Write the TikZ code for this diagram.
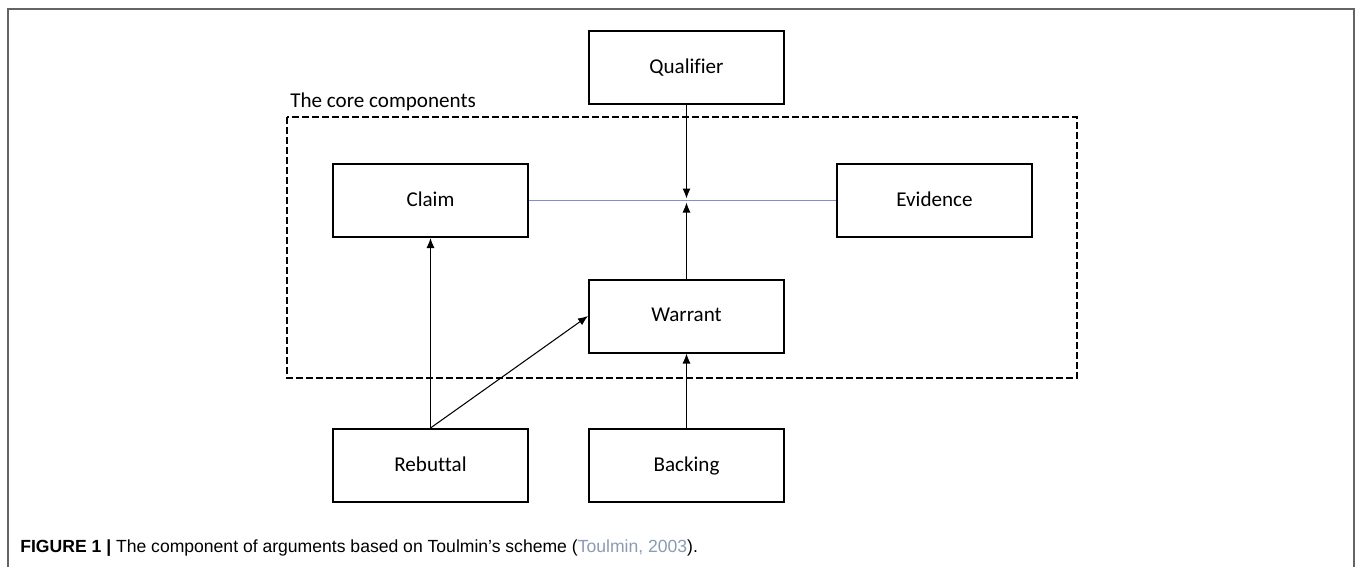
\documentclass[tikz,border=0pt]{standalone}
\usepackage{fontspec}
\setmainfont{Carlito}[Ligatures={TeX,NoCommon}]
\newfontfamily\captionfont{Liberation Sans}
\usetikzlibrary{shapes,arrows,arrows.meta,positioning}
\definecolor{linkblue}{RGB}{125,145,205}
\definecolor{citegray}{RGB}{140,155,180}
\definecolor{framegray}{RGB}{100,100,100}
\tikzstyle{block} = [rectangle, draw, line width=0.04cm, text centered, minimum width=3.9cm,
minimum height=1.46cm, text height=0.66em, text depth=0.02em, font=\fontsize{12}{14}\selectfont]
\tikzstyle{line} = [draw, -{Latex[length=0.2cm,width=0.16cm]}, line width=0.6pt]
\tikzstyle{link} = [draw, linkblue, line width=0.6pt]
\tikzstyle{core} = [draw, dashed, dash pattern=on 0.13cm off 0.07cm, line width=0.04cm]
\begin{document}
\begin{tikzpicture}[node distance = 2cm, auto]
			\useasboundingbox (0,0) rectangle (27.1,-11.34);
			% page frame
			\draw [framegray, line width=0.03cm] (0.16,-11.34) -- (0.16,-0.18) -- (27.08,-0.18) -- (27.08,-11.34);
			\node [block] (qualifier) at (13.73,-1.35) {Qualifier};
			\node [block, below of=qualifier, node distance=4.97cm] (warrant) {Warrant};
			\node [block, below of=warrant, node distance=2.99cm] (backing) {Backing};
			\node [block] (claim) at (8.61,-4.01) {Claim};
			\node [block, right of=claim, node distance=10.08cm] (evidence) {Evidence};
			\node [block, below of=claim, node distance=5.3cm] (rebuttal) {Rebuttal};
			\coordinate (join) at (qualifier |- claim);
			% core components frame
			\draw [core] (5.74,-2.34) rectangle (21.54,-7.56);
			\node [anchor=base west, inner sep=0, font=\fontsize{12}{15}\selectfont] (corelabel) at (5.8,-2.14) {The core components};
			\path [link] (claim) -- (evidence);
			\path [line, shorten >=0.04cm] (qualifier) -- (join);
			\path [line, shorten >=0.04cm] (warrant) -- (join);
			\path [line] (rebuttal) -- (claim);
			\path [line] (rebuttal.north) -- (warrant.west);
			\path [line] (backing) -- (warrant);
			\node [anchor=west, inner sep=0, font=\captionfont\fontsize{10}{12}\selectfont] (caption) at (0.4,-10.96)
			{\textbf{FIGURE 1 |} The component of arguments based on Toulmin’s scheme (\textcolor{citegray}{Toulmin, 2003}).};
		\end{tikzpicture}
\end{document}
